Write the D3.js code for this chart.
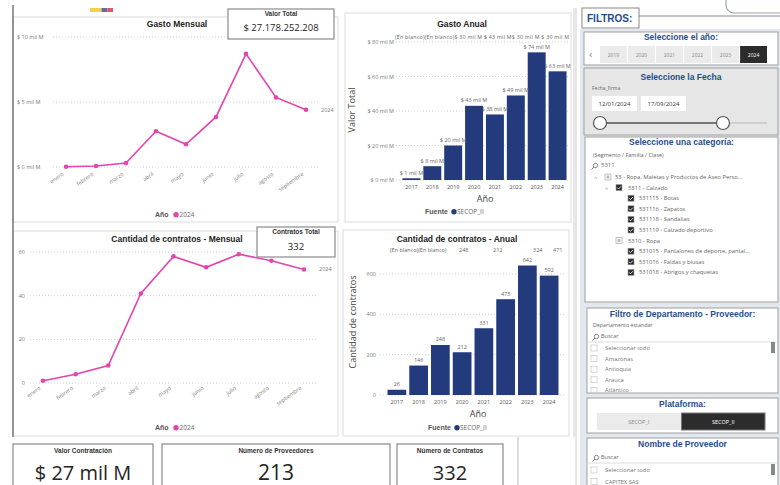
<!DOCTYPE html>
<html lang="es">
<head>
<meta charset="UTF-8">
<title>Gasto y contratos</title>
<script src="https://cdn.jsdelivr.net/npm/d3@7"></script>
<style>
    body { margin: 0; padding: 0; background: #fff; }
    svg { display: block; font-family: "Open Sans", "Noto Sans", sans-serif; }
    .title { font-family: "Liberation Sans", Arial, sans-serif; font-weight: bold; fill: #252423; }
    .tick-label { fill: #7a7a7a; font-size: 5.5px; }
    .grid { stroke: #cfcfcf; stroke-dasharray: 1 2; }
    .ftitle { fill: #1f4e8c; font-weight: bold; font-family: "Liberation Sans", Arial, sans-serif; font-size: 8.5px; }
    .small { fill: #666; font-size: 6px; }
</style>
</head>
<body>
<div id="chart"></div>
<script>
// data
const months = ["enero", "febrero", "marzo", "abril", "mayo", "junio", "julio", "agosto", "septiembre"];
const gastoMensual = [0.02, 0.08, 0.3, 2.75, 1.75, 3.85, 8.7, 5.35, 4.4];   // mil M
const contratosMensual = [1, 4, 8, 41, 58, 53, 59, 56, 52];
const years = ["2017", "2018", "2019", "2020", "2021", "2022", "2023", "2024"];
const gastoAnual = [1, 8, 20, 43, 38, 49, 74, 63];                           // mil M
const contratosAnual = [26, 146, 248, 212, 331, 475, 642, 592];
const gastoTicks = [0, 5, 10];
const gastoAnualTicks = [0, 20, 40, 60, 80];
const contratosTicks = [0, 20, 40, 60];
const contratosAnualTicks = [0, 200, 400, 600];
const gastoTopRow = "(En blanco)(En blanco)$ 30 mil M  $ 43 mil M$ 30 mil M $ 30 mil M";
const contratosTopRow = ["(En blanco)(En blanco)", "248", "212", "324", "471"];
const yearButtons = ["2019", "2020", "2021", "2022", "2023", "2024"];
const fechas = ["12/01/2024", "17/09/2024"];
const categoryTree = [
    [0, "53 - Ropa, Maletas y Productos de Aseo Perso...", "partial"],
    [1, "5311 - Calzado", "on"],
    [2, "531115 - Botas", "on"],
    [2, "531116 - Zapatos", "on"],
    [2, "531118 - Sandalias", "on"],
    [2, "531119 - Calzado deportivo", "on"],
    [1, "5310 - Ropa", "partial"],
    [2, "531015 - Pantalones de deporte, pantal...", "on"],
    [2, "531016 - Faldas y blusas", "on"],
    [2, "531018 - Abrigos y chaquetas", "on"]
];
const departamentos = ["Seleccionar todo", "Amazonas", "Antioquia", "Arauca", "Atlántico"];
const plataformas = ["SECOP_I", "SECOP_II"];
const proveedores = ["Seleccionar todo", "CAPITEX SAS"];

const w = 780, h = 485;
const pink = "#e344ad", navy = "#233b7c";

const svg = d3.select("#chart").append("svg")
    .attr("width", w).attr("height", h)
    .attr("viewBox", `0 0 ${w} ${h}`);

function panel(x, y, pw, ph) {
    svg.append("rect").attr("x", x).attr("y", y).attr("width", pw).attr("height", ph)
        .attr("fill", "#fff").attr("stroke", "#dcdcdc").attr("stroke-width", 1);
}

function card(x, y, cw, ch, label, value, ls, vs, ly, vy) {
    svg.append("rect").attr("x", x).attr("y", y).attr("width", cw).attr("height", ch)
        .attr("fill", "#fff").attr("stroke", "#8a8a8a").attr("stroke-width", 1.2);
    svg.append("text").attr("x", x + cw / 2).attr("y", ly).attr("text-anchor", "middle")
        .attr("class", "title").style("font-size", ls + "px").style("fill", "#333").text(label);
    svg.append("text").attr("x", x + cw / 2).attr("y", vy).attr("text-anchor", "middle")
        .style("font-size", vs + "px").style("fill", "#252423").text(value);
}

function magnifier(x, y) {
    svg.append("circle").attr("cx", x + 1.5).attr("cy", y - 1.5).attr("r", 2.2)
        .attr("fill", "none").attr("stroke", "#555").attr("stroke-width", 0.7);
    svg.append("line").attr("x1", x).attr("y1", y).attr("x2", x - 2.5).attr("y2", y + 2.5)
        .attr("stroke", "#555").attr("stroke-width", 0.8);
}

// flag strip + left rule
[["#f5d33f", 90, 11.5], ["#5a6fb0", 101.5, 6], ["#e0566b", 107.5, 5.5]].forEach(([c, x, ww]) =>
    svg.append("rect").attr("x", x).attr("y", 8).attr("width", ww).attr("height", 4).attr("fill", c));

panel(13, 17, 325, 205);
panel(345, 13, 226, 209);
panel(13, 231, 325, 205);
panel(343, 230, 226, 206);
svg.append("line").attr("x1", 13).attr("x2", 13).attr("y1", 5).attr("y2", 437).attr("stroke", "#555").attr("stroke-width", 1.2);
svg.append("line").attr("x1", 574).attr("x2", 574).attr("y1", 8).attr("y2", 437).attr("stroke", "#cfcfcf");
svg.append("line").attr("x1", 518).attr("x2", 518).attr("y1", 437).attr("y2", 485).attr("stroke", "#bbb");

// ---- line charts ----
function lineChart(o) {
    const x = d3.scalePoint().domain(months).range(o.xr);
    const y = d3.scaleLinear().domain(o.yd).range(o.yr);
    const g = svg.append("g");
    g.selectAll(".grid").data(o.ticks).enter().append("line").attr("class", "grid")
        .attr("x1", o.gx[0]).attr("x2", o.gx[1]).attr("y1", d => y(d)).attr("y2", d => y(d));
    g.selectAll(".yl").data(o.ticks).enter().append("text").attr("class", "tick-label")
        .attr("x", o.lx).attr("y", d => y(d) + 2).attr("text-anchor", o.la).text(o.fmt);
    g.selectAll(".xl").data(months).enter().append("text").attr("class", "tick-label")
        .attr("text-anchor", "end")
        .attr("transform", d => `translate(${x(d) - 2},${o.xly}) rotate(-35)`).text(d => d);
    g.append("path").datum(o.data)
        .attr("d", d3.line().x((d, i) => x(months[i])).y(d => y(d)))
        .attr("fill", "none").attr("stroke", pink).attr("stroke-width", 1.6);
    g.selectAll("circle").data(o.data).enter().append("circle")
        .attr("cx", (d, i) => x(months[i])).attr("cy", d => y(d)).attr("r", 2.3).attr("fill", pink);
    g.append("text").attr("class", "tick-label").attr("x", x(months[8]) + 15)
        .attr("y", y(o.data[8]) + 2).text("2024");
    g.append("text").attr("class", "title").attr("x", o.tx).attr("y", o.ty).attr("text-anchor", "middle")
        .style("font-size", "8.5px").text(o.title);
    g.append("text").attr("class", "title").attr("x", 155).attr("y", o.legy).style("font-size", "7px")
        .style("fill", "#555").text("Año");
    g.append("circle").attr("cx", 176).attr("cy", o.legy - 2.3).attr("r", 2.7).attr("fill", pink);
    g.append("text").attr("x", 179.5).attr("y", o.legy).style("font-size", "6.5px").style("fill", "#666").text("2024");
}

lineChart({
    data: gastoMensual, xr: [66, 306], yd: [0, 10], yr: [167, 37], ticks: gastoTicks,
    gx: [53, 320], lx: 17, la: "start", fmt: d => `$ ${d} mil M`, xly: 175,
    title: "Gasto Mensual", tx: 177, ty: 27, legy: 217
});
lineChart({
    data: contratosMensual, xr: [43, 304], yd: [0, 60], yr: [383, 252], ticks: contratosTicks,
    gx: [30, 318], lx: 25, la: "end", fmt: d => d, xly: 389,
    title: "Cantidad de contratos - Mensual", tx: 177, ty: 242, legy: 430
});

card(228, 9, 106, 30, "Valor Total", "$ 27.178.252.208", 6.5, 9.5, 16, 31);
card(257, 227, 78, 30, "Contratos Total", "332", 6.5, 9.5, 234, 250);

// ---- bar charts ----
function barChart(o) {
    const x = d3.scaleBand().domain(years).range(o.xr).paddingInner(0.14).paddingOuter(0.07);
    const y = d3.scaleLinear().domain(o.yd).range(o.yr);
    const g = svg.append("g");
    g.selectAll(".grid").data(o.ticks).enter().append("line").attr("class", "grid")
        .attr("x1", o.gx[0]).attr("x2", o.gx[1]).attr("y1", d => y(d)).attr("y2", d => y(d));
    g.selectAll(".yl").data(o.ticks).enter().append("text").attr("class", "tick-label")
        .attr("x", o.lx).attr("y", d => y(d) + 2).attr("text-anchor", "end").text(o.fmt);
    g.selectAll("rect").data(o.data).enter().append("rect")
        .attr("x", (d, i) => x(years[i])).attr("width", x.bandwidth())
        .attr("y", d => y(d)).attr("height", d => y(0) - y(d)).attr("fill", navy);
    g.selectAll(".bl").data(o.data).enter().append("text").attr("class", "tick-label")
        .attr("x", (d, i) => x(years[i]) + x.bandwidth() / 2).attr("y", d => y(d) - 3.5)
        .attr("text-anchor", "middle").style("fill", "#666").text(o.lab);
    g.selectAll(".xl").data(years).enter().append("text").attr("class", "tick-label")
        .attr("x", d => x(d) + x.bandwidth() / 2).attr("y", y(0) + 9).attr("text-anchor", "middle")
        .style("fill", "#555").text(d => d);
    g.append("text").attr("class", "title").attr("x", o.tx).attr("y", o.ty).attr("text-anchor", "middle")
        .style("font-size", "8.5px").text(o.title);
    g.append("text").attr("transform", `translate(${o.yt[0]},${o.yt[1]}) rotate(-90)`)
        .attr("text-anchor", "middle").style("font-size", "9px").style("fill", "#444").text(o.ytitle);
    g.append("text").attr("x", o.xt[0]).attr("y", o.xt[1]).attr("text-anchor", "middle")
        .style("font-size", "9px").style("fill", "#444").text("Año");
    g.append("text").attr("class", "title").attr("x", o.leg[0]).attr("y", o.leg[1])
        .style("font-size", "7px").style("fill", "#555").text("Fuente");
    g.append("circle").attr("cx", o.leg[0] + 29).attr("cy", o.leg[1] - 2.3).attr("r", 2.7).attr("fill", navy);
    g.append("text").attr("x", o.leg[0] + 32).attr("y", o.leg[1]).style("font-size", "6.5px")
        .style("fill", "#666").text("SECOP_II");
    return { x, y, g };
}

const b1 = barChart({
    data: gastoAnual, xr: [401, 568], yd: [0, 80], yr: [180, 42], ticks: gastoAnualTicks,
    gx: [396, 568], lx: 394, fmt: d => `$ ${d} mil M`, lab: d => `$ ${d} mil M`,
    title: "Gasto Anual", tx: 462, ty: 27, ytitle: "Valor Total", yt: [355, 110],
    xt: [485, 202], leg: [425, 214]
});
b1.g.append("text").attr("class", "tick-label").attr("x", 395).attr("y", 39)
    .style("font-size", "5.3px").style("fill", "#666").attr("textLength", 174).text(gastoTopRow);

const b2 = barChart({
    data: contratosAnual, xr: [386, 560], yd: [0, 600], yr: [395, 274], ticks: contratosAnualTicks,
    gx: [380, 566], lx: 376, fmt: d => d, lab: d => d,
    title: "Cantidad de contratos - Anual", tx: 457, ty: 242, ytitle: "Cantidad de contratos",
    yt: [356, 322], xt: [478, 417], leg: [428, 430]
});
b2.g.selectAll(".top").data(contratosTopRow).enter().append("text").attr("class", "tick-label")
    .attr("x", (d, i) => [390, 459, 493, 533, 553][i]).attr("y", 252)
    .style("fill", "#666").text(d => d);

// ---- KPI cards ----
card(13, 444, 140, 45, "Valor Contratación", "$ 27 mil M", 6.5, 20, 453, 480);
card(162, 444, 228, 45, "Número de Proveedores", "213", 6.5, 21, 453, 480);
card(397, 444, 106, 45, "Número de Contratos", "332", 6.5, 20, 453, 480);

// ---- filters ----
svg.append("rect").attr("x", 580).attr("y", 29).attr("width", 200).attr("height", 456).attr("fill", "#e2e8ee");
svg.append("line").attr("x1", 576).attr("x2", 576).attr("y1", 8).attr("y2", 485).attr("stroke", "#cfcfcf");
svg.append("rect").attr("x", 726).attr("y", -10).attr("width", 70).attr("height", 23).attr("rx", 8)
    .attr("fill", "#fff").attr("stroke", "#9aa3ad").attr("stroke-width", 1.2);
svg.append("line").attr("x1", 639).attr("x2", 780).attr("y1", 16).attr("y2", 16).attr("stroke", "#888");
svg.append("rect").attr("x", 582).attr("y", 8).attr("width", 57).attr("height", 20)
    .attr("fill", "#fff").attr("stroke", "#888");
svg.append("text").attr("x", 587).attr("y", 22).attr("class", "ftitle").style("font-size", "10px").text("FILTROS:");

function box(x, y, bw, bh, fill, title, ty) {
    svg.append("rect").attr("x", x).attr("y", y).attr("width", bw).attr("height", bh)
        .attr("fill", fill).attr("stroke", "#a0a0a0");
    svg.append("text").attr("x", x + bw / 2).attr("y", ty).attr("text-anchor", "middle")
        .attr("class", "ftitle").text(title);
}

// year slicer
box(584, 32, 194, 33, "#fff", "Seleccione el año:", 40);
svg.append("text").attr("x", 589).attr("y", 58).style("font-size", "11px").style("fill", "#888").text("‹");
const yb = d3.scaleBand().domain(yearButtons).range([600, 767]).paddingInner(0.04);
svg.selectAll(".yb").data(yearButtons).enter().append("rect")
    .attr("x", d => yb(d)).attr("y", 46).attr("width", yb.bandwidth()).attr("height", 17)
    .attr("fill", d => d === "2024" ? "#2c2c2c" : "#ebebeb");
svg.selectAll(".ybt").data(yearButtons).enter().append("text")
    .attr("x", d => yb(d) + yb.bandwidth() / 2).attr("y", 56.5).attr("text-anchor", "middle")
    .style("font-size", "5px").style("fill", d => d === "2024" ? "#fff" : "#888").text(d => d);

// date slicer
box(584, 68, 194, 67, "#e6e6e6", "Seleccione la Fecha", 80);
svg.append("text").attr("class", "small").attr("x", 592).attr("y", 90).style("font-size", "5px").text("Fecha_firma");
fechas.forEach((f, i) => {
    svg.append("rect").attr("x", 592 + i * 49).attr("y", 96).attr("width", 45).attr("height", 15).attr("fill", "#fff");
    svg.append("text").attr("x", 614.5 + i * 49).attr("y", 106).attr("text-anchor", "middle")
        .style("font-size", "6px").style("fill", "#333").text(f);
});
svg.append("line").attr("x1", 600).attr("x2", 767).attr("y1", 123).attr("y2", 123).attr("stroke", "#cfcfcf").attr("stroke-width", 2);
svg.append("line").attr("x1", 600).attr("x2", 723).attr("y1", 123).attr("y2", 123).attr("stroke", "#777").attr("stroke-width", 2);
[600, 723].forEach(cx => svg.append("circle").attr("cx", cx).attr("cy", 123).attr("r", 6.5)
    .attr("fill", "#fff").attr("stroke", "#555").attr("stroke-width", 1.2));

// category slicer
box(585, 137, 193, 165, "#fff", "Seleccione una categoría:", 145);
svg.append("text").attr("class", "small").attr("x", 593).attr("y", 157).style("font-size", "5.5px").text("(Segmento / Familia / Clase)");
magnifier(594, 167);
svg.append("text").attr("class", "small").attr("x", 601).attr("y", 167).text("5311");
const chkX = [608, 619, 631], txtX = [615, 628, 639];
const cat = svg.selectAll(".cat").data(categoryTree).enter().append("g")
    .attr("transform", (d, i) => `translate(0,${177 + i * 10.6})`);
cat.append("rect").attr("x", d => chkX[d[0]] - 3).attr("y", -3).attr("width", 6).attr("height", 6)
    .attr("fill", d => d[2] === "on" ? "#2c2c2c" : "#fff").attr("stroke", "#999").attr("stroke-width", 0.6);
cat.filter(d => d[2] === "partial").append("rect").attr("x", d => chkX[d[0]] - 1.5).attr("y", -1.5)
    .attr("width", 3).attr("height", 3).attr("fill", "#bbb");
cat.filter(d => d[2] === "on").append("path")
    .attr("d", d => `M${chkX[d[0]] - 1.8},0 l1.3,1.4 l2.4,-2.6`).attr("stroke", "#fff").attr("stroke-width", 0.8).attr("fill", "none");
cat.append("text").attr("x", d => txtX[d[0]]).attr("y", 2).style("font-size", "5.8px").style("fill", "#666").text(d => d[1]);
cat.filter((d, i) => i < 2).append("text").attr("x", d => chkX[d[0]] - 14).attr("y", 3)
    .style("font-size", "6px").style("fill", "#888").text("^");

// departamento slicer
box(587, 308, 191, 85, "#fff", "Filtro de Departamento - Proveedor:", 317);
svg.append("text").attr("class", "small").attr("x", 593).attr("y", 327).style("font-size", "5.3px").text("Departamento estandar");
magnifier(595, 338);
svg.append("text").attr("class", "small").attr("x", 601).attr("y", 338).style("font-size", "5.5px").text("Buscar");
svg.append("line").attr("x1", 588).attr("x2", 777).attr("y1", 342).attr("y2", 342).attr("stroke", "#ddd");
svg.append("rect").attr("x", 771).attr("y", 342).attr("width", 4).attr("height", 11).attr("fill", "#888");
svg.append("clipPath").attr("id", "dclip").append("rect").attr("x", 587).attr("y", 343).attr("width", 191).attr("height", 49);
const dep = svg.append("g").attr("clip-path", "url(#dclip)").selectAll("g").data(departamentos).enter().append("g")
    .attr("transform", (d, i) => `translate(0,${348 + i * 10.6})`);
dep.append("rect").attr("x", 591).attr("y", -3).attr("width", 6).attr("height", 6).attr("fill", "#fff").attr("stroke", "#bbb").attr("stroke-width", 0.6);
dep.append("text").attr("x", 605).attr("y", 2).style("font-size", "5.8px").style("fill", "#777").text(d => d);

// plataforma
box(587, 398, 191, 35, "#fff", "Plataforma:", 407);
const pb = d3.scaleBand().domain(plataformas).range([597, 765]).paddingInner(0.01);
svg.selectAll(".pb").data(plataformas).enter().append("rect")
    .attr("x", d => pb(d)).attr("y", 413).attr("width", pb.bandwidth()).attr("height", 17)
    .attr("fill", (d, i) => i ? "#2c2c2c" : "#ebebeb").attr("stroke", (d, i) => i ? "#777" : "none");
svg.selectAll(".pbt").data(plataformas).enter().append("text")
    .attr("x", d => pb(d) + pb.bandwidth() / 2).attr("y", 423.5).attr("text-anchor", "middle")
    .style("font-size", "5.5px").style("fill", (d, i) => i ? "#fff" : "#888").text(d => d);

// proveedor
box(587, 438, 191, 60, "#fff", "Nombre de Proveedor", 447);
magnifier(595, 459);
svg.append("text").attr("class", "small").attr("x", 601).attr("y", 459).style("font-size", "5.5px").text("Buscar");
svg.append("line").attr("x1", 588).attr("x2", 777).attr("y1", 463).attr("y2", 463).attr("stroke", "#ddd");
svg.append("rect").attr("x", 771).attr("y", 464).attr("width", 4).attr("height", 11).attr("fill", "#888");
const prov = svg.selectAll(".prov").data(proveedores).enter().append("g")
    .attr("transform", (d, i) => `translate(0,${470 + i * 11.5})`);
prov.append("rect").attr("x", 591).attr("y", -3).attr("width", 6).attr("height", 6).attr("fill", "#fff").attr("stroke", "#bbb").attr("stroke-width", 0.6);
prov.append("text").attr("x", 605).attr("y", 2).style("font-size", "5.8px").style("fill", "#777").text(d => d);
</script>
</body>
</html>
